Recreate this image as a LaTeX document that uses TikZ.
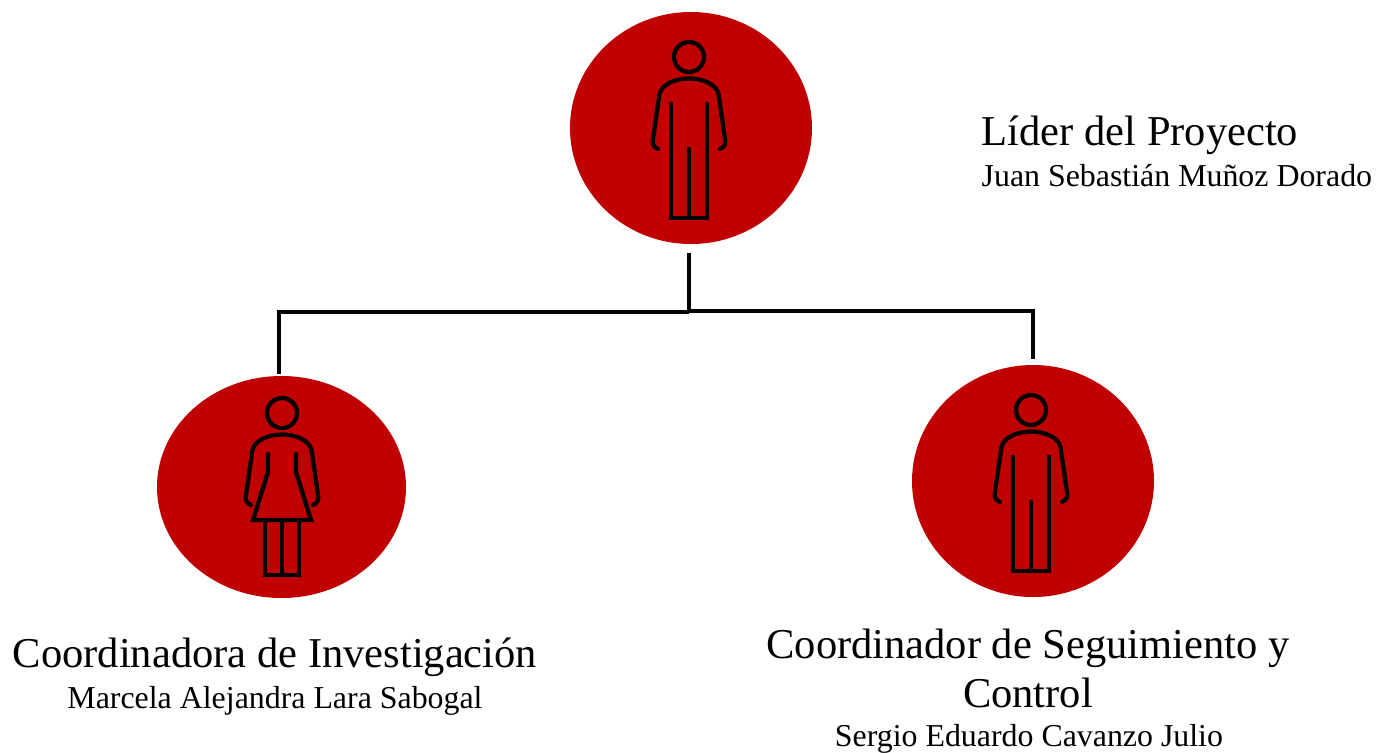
\documentclass[tikz,border=0pt]{standalone}
\usepackage{fontspec}
\setmainfont{Liberation Serif}
\usetikzlibrary{shapes.geometric}
\definecolor{rojo}{HTML}{C00000}

\tikzset{
  circulo/.style={ellipse, fill=rojo, inner sep=0pt},
  figura/.style={line width=1.2pt, line cap=round, black},
  linea/.style={line width=1.2pt, black},
  cargo/.style={anchor=base, font=\fontsize{12.1pt}{14.5pt}\selectfont, inner sep=0pt},
  nombre/.style={anchor=base, font=\fontsize{9.07pt}{10.9pt}\selectfont, inner sep=0pt},
  brazos/.pic={
    \draw[figura] (-.31,-.92) .. controls (-.36,-.90) and (-.37,-.86) .. (-.36,-.82)
      -- (-.295,-.37) .. controls (-.275,-.28) and (-.15,-.215) .. (0,-.215)
      .. controls (.15,-.215) and (.275,-.28) .. (.295,-.37)
      -- (.36,-.82) .. controls (.37,-.86) and (.36,-.90) .. (.31,-.92);
    \draw[figura] (0,0) circle (.15);
  },
  hombre/.pic={
    \pic {brazos};
    \draw[figura] (-.177,-.467) -- (-.177,-1.61) -- (.177,-1.61) -- (.177,-.467);
    \draw[figura] (0,-.92) -- (0,-1.61);
  },
  mujer/.pic={
    \pic {brazos};
    \draw[figura] (-.14,-.41) -- (-.14,-.59) -- (-.29,-1.07) -- (.29,-1.07) -- (.14,-.59) -- (.14,-.41);
    \draw[figura] (-.167,-1.07) -- (-.167,-1.62) -- (.167,-1.62) -- (.167,-1.07);
    \draw[figura] (0,-1.07) -- (0,-1.62);
  }
}

\begin{document}
\begin{tikzpicture}

  \useasboundingbox (0,0) rectangle (13.88,7.52);

  \node[circulo, minimum width=2.42cm, minimum height=2.32cm] (lider) at (6.91,6.24) {};
  \node[circulo, minimum width=2.49cm, minimum height=2.22cm] (investigacion) at (2.815,2.65) {};
  \node[circulo, minimum width=2.42cm, minimum height=2.32cm] (seguimiento) at (10.33,2.71) {};

  \pic at (6.89,6.95) {hombre};
  \pic at (2.82,3.39) {mujer};
  \pic at (10.31,3.42) {hombre};

  \coordinate (cruce) at (6.89,4.40);
  \coordinate (cruceder) at (6.89,4.41);
  \coordinate (llegada) at (2.79,3.78);

  \draw[linea, shorten <=.08cm] (lider.south -| cruce) -- (cruce);
  \draw[linea] (cruce) -| (llegada);
  \draw[linea, shorten >=.05cm] (cruceder) -| (seguimiento.north);

  \node[cargo, anchor=base west] (t1) at (9.81,6.07) {Líder del Proyecto};
  \node[nombre, anchor=base west] (n1) at (9.81,5.66) {Juan Sebastián Muñoz Dorado};

  \node[cargo] (t2) at (2.75,.85) {Coordinadora de Investigación};
  \node[nombre] (n2) at (2.75,.44) {Marcela Alejandra Lara Sabogal};

  \node[cargo] (t3) at (10.28,.94) {Coordinador de Seguimiento y};
  \node[cargo] (t4) at (10.28,.45) {Control};
  \node[nombre] (n3) at (10.29,.06) {Sergio Eduardo Cavanzo Julio};

\end{tikzpicture}
\end{document}
